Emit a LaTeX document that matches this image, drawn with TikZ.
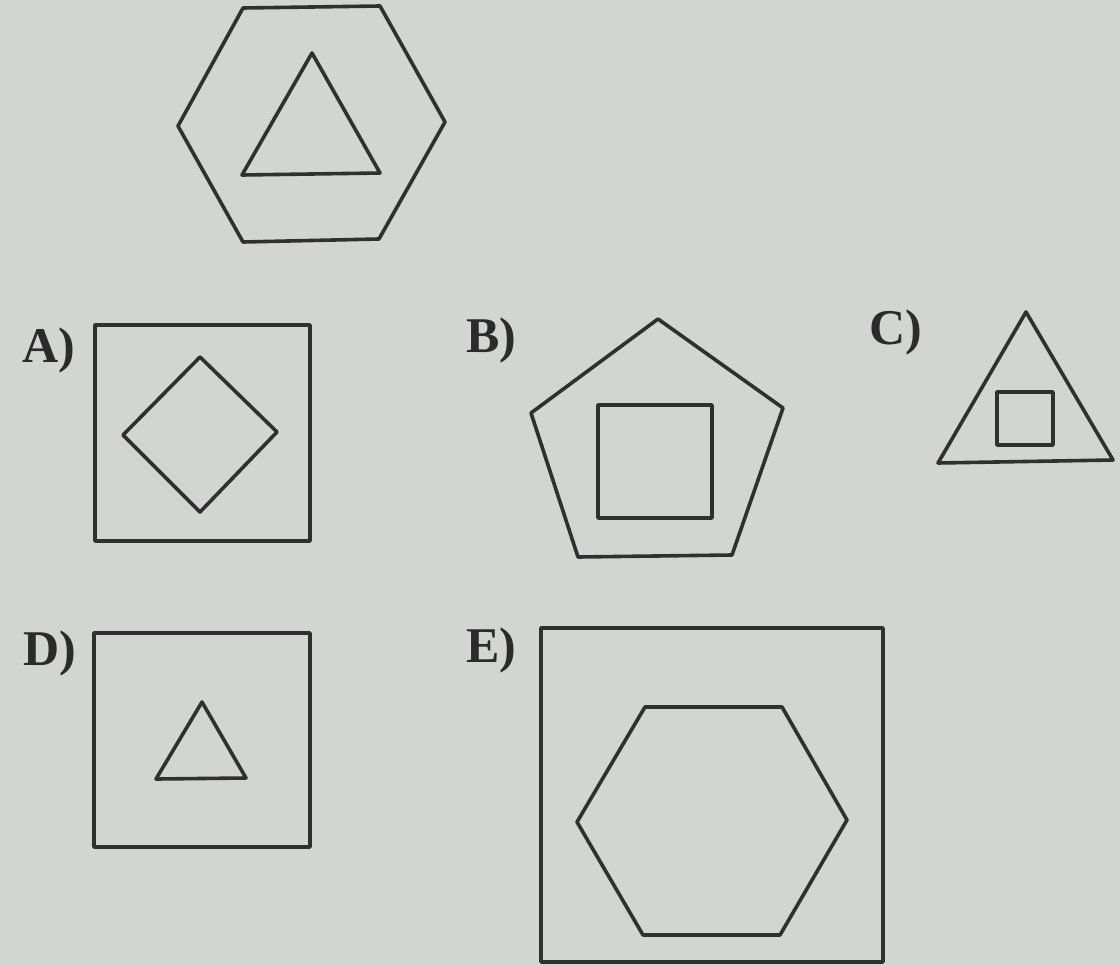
\documentclass[tikz,border=0pt]{standalone}
\usepackage{fontspec}
\setmainfont{Liberation Serif}
\usepackage{xcolor}
\definecolor{paper}{RGB}{211,213,209}
\definecolor{ink}{RGB}{48,48,48}
\tikzset{
  outline/.style={draw=ink, line width=3.6pt, line join=round},
  optlabel/.style={font=\fontsize{50}{50}\selectfont\bfseries, text=ink!90!black, inner sep=0pt}
}

\begin{document}
\begin{tikzpicture}[x=1pt, y=-1pt]
        % paper
        \fill[paper] (0,0) rectangle (1119,966);
        \useasboundingbox (0,0) rectangle (1119,966);
        % Question figure
        \draw[outline] (178,126) -- (243,8) -- (380,6) -- (445,122) -- (379,239) -- (243,242) -- cycle;
        \draw[outline] (312,53) -- (380,173) -- (242,175) -- cycle;
        % A
        \node[optlabel] (labA) at (49,350) {A)};
        \draw[outline] (95,325) rectangle (310,541);
        \draw[outline] (200,357) -- (277,432) -- (200,512) -- (123,435) -- cycle;
        % B
        \node[optlabel] (labB) at (491,340) {B)};
        \draw[outline] (658,319) -- (783,408) -- (732,555) -- (578,557) -- (531,413) -- cycle;
        \draw[outline] (598,405) rectangle (712,518);
        % C
        \node[optlabel] (labC) at (896,332) {C)};
        \draw[outline] (1026,312) -- (1113,460) -- (938,463) -- cycle;
        \draw[outline] (997,392) rectangle (1053,445);
        % D
        \node[optlabel] (labD) at (50,653) {D)};
        \draw[outline] (94,633) rectangle (310,847);
        \draw[outline] (202,702) -- (246,778) -- (156,779) -- cycle;
        % E
        \node[optlabel] (labE) at (491,650) {E)};
        \draw[outline] (541,628) rectangle (883,962);
        \draw[outline] (577,822) -- (645,707) -- (782,707) -- (847,820) -- (780,935) -- (643,935) -- cycle;
      \end{tikzpicture}
\end{document}
